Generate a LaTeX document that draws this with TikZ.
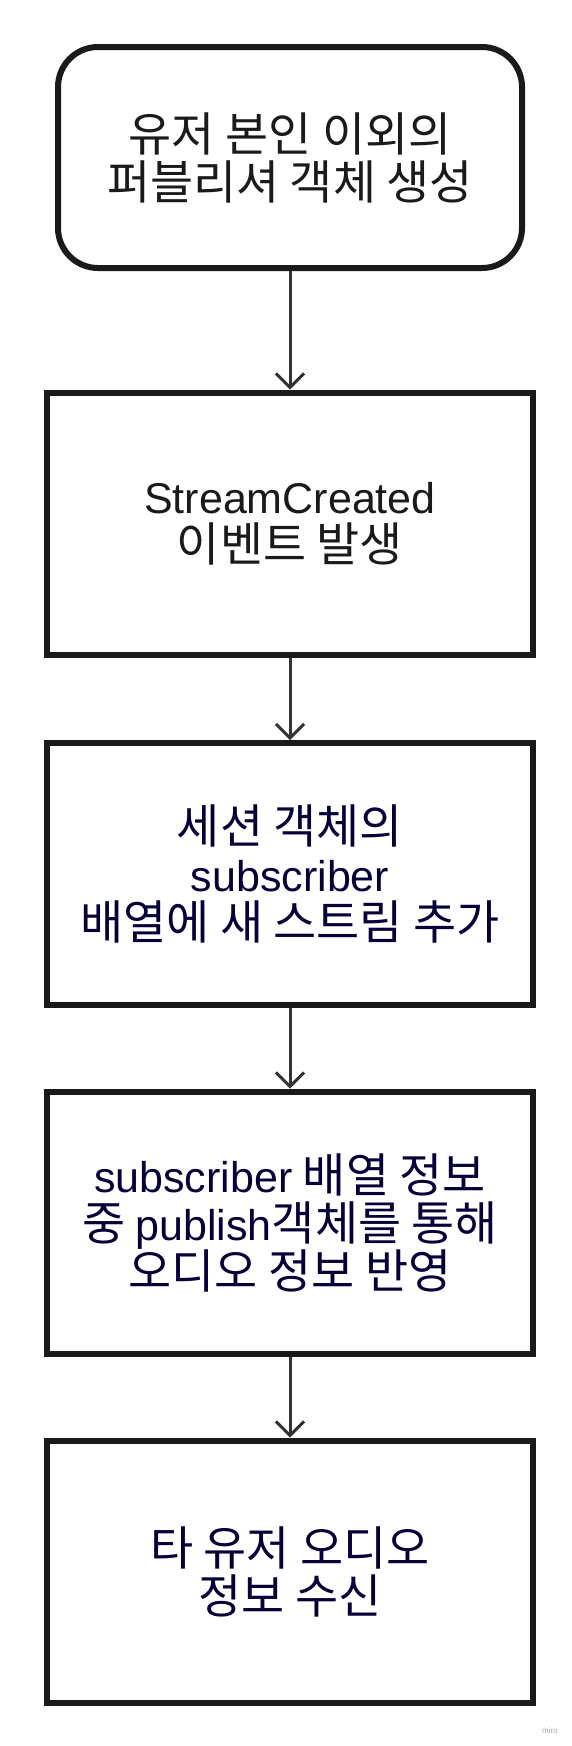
\documentclass[tikz,border=0pt]{standalone}
\usepackage{fontspec}
\setmainfont{Noto Sans CJK KR}[Scale=1.09]
\newfontfamily\lat{Liberation Sans}
\usetikzlibrary{arrows.meta}
\definecolor{bordc}{HTML}{1A1A1A}
\definecolor{arrc}{HTML}{333333}
\definecolor{txtA}{HTML}{1A1A1A}
\definecolor{txtB}{HTML}{050038}
\tikzset{
  flowbox/.style={draw=bordc, line width=6pt, fill=white, minimum width=486pt, minimum height=262pt,
    align=center, inner sep=0pt, font=\fontsize{43}{48}\selectfont},
  startbox/.style={flowbox, rounded corners=40pt, minimum width=464pt, minimum height=221pt},
  flowarrow/.style={draw=arrc, line width=3pt, -{Straight Barb[length=14pt,width=28pt]}},
}
\begin{document}
\begin{tikzpicture}[x=1pt,y=-1pt]
\useasboundingbox (0,0) rectangle (572,1746);
\node[startbox, text=txtA] (b1) at (290,157.5) {유저 본인 이외의\\퍼블리셔 객체 생성};
\node[flowbox, text=txtA] (b2) at (290,523.5) {{\lat StreamCreated}\\이벤트 발생};
\node[flowbox, text=txtB] (b3) at (290,874) {세션 객체의\\{\lat subscriber}\\배열에 새 스트림 추가};
\node[flowbox, text=txtB] (b4) at (290,1222.5) {{\lat subscriber} 배열 정보\\중 {\lat publish}객체를 통해\\오디오 정보 반영};
\node[flowbox, text=txtB] (b5) at (290,1571.5) {타 유저 오디오\\정보 수신};
\draw[flowarrow] (b1.south) -- (b2.north);
\draw[flowarrow] (b2.south) -- (b3.north);
\draw[flowarrow] (b3.south) -- (b4.north);
\draw[flowarrow] (b4.south) -- (b5.north);
\node[text=black!35, font=\lat\fontsize{8}{9}\selectfont] (wm) at (550,1731) {miro};
\end{tikzpicture}
\end{document}
